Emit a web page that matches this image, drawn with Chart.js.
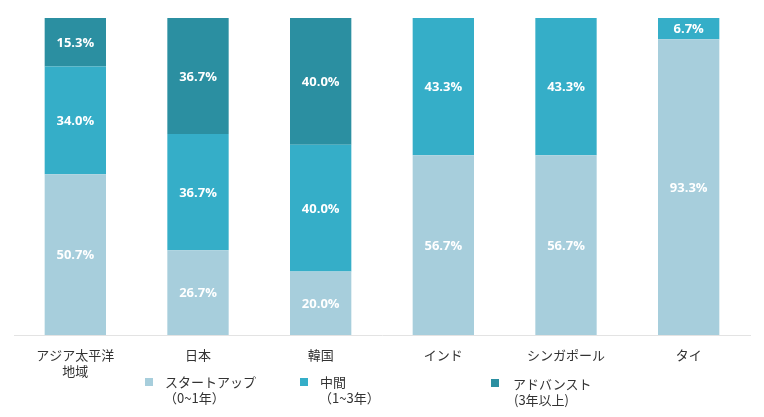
<!DOCTYPE html>
<html><head><meta charset="utf-8">
<script src="https://cdn.jsdelivr.net/npm/chart.js@4/dist/chart.umd.min.js"></script>
<style>
html,body{margin:0;padding:0;background:#fff;}
#wrap{position:relative;width:764px;height:417px;}
#c{position:absolute;left:0;top:0;}
.leg{position:absolute;font-family:"Noto Sans CJK JP","Noto Sans",sans-serif;font-size:13px;color:#333;line-height:15px;white-space:nowrap;}
.sq{position:absolute;width:8px;height:8px;}
</style></head><body>
<div id="wrap"><canvas id="c" width="764" height="417"></canvas>
<div class="sq" style="left:145px;top:378px;background:#a7cedc"></div>
<div class="leg" style="left:165px;top:374px">スタートアップ</div>
<div class="leg" style="left:164px;top:390px">（0~1年）</div>
<div class="sq" style="left:300px;top:378px;background:#35aec8"></div>
<div class="leg" style="left:320px;top:374px">中間</div>
<div class="leg" style="left:319px;top:390px">（1~3年）</div>
<div class="sq" style="left:491px;top:379px;background:#2b8fa1"></div>
<div class="leg" style="left:513px;top:376px">アドバンスト</div>
<div class="leg" style="left:514px;top:392px">(3年以上)</div>
</div>
<script>
const categories = [['アジア太平洋','地域'],'日本','韓国','インド','シンガポール','タイ'];
const startup = [50.7, 26.7, 20.0, 56.7, 56.7, 93.3];
const middle = [34.0, 36.7, 40.0, 43.3, 43.3, 6.7];
const advanced = [15.3, 36.7, 40.0, 0, 0, 0];
const seriesNames = ['スタートアップ（0~1年）','中間（1~3年）','アドバンスト（3年以上）'];
const colors = ['#a7cedc','#35aec8','#2b8fa1'];

const labelPlugin = {
  id:'segLabels',
  afterDatasetsDraw(chart){
    const ctx = chart.ctx;
    ctx.save();
    ctx.font = 'bold 13px "Open Sans", sans-serif';
    ctx.fillStyle = '#fff';
    ctx.textAlign = 'center';
    ctx.textBaseline = 'middle';
    chart.data.datasets.forEach((ds,i)=>{
      const meta = chart.getDatasetMeta(i);
      meta.data.forEach((bar,j)=>{
        const v = ds.data[j];
        if(!v) return;
        const y = (bar.y + bar.base)/2 + 1;
        ctx.fillText(v.toFixed(1)+'%', bar.x, y);
      });
    });
    ctx.restore();
  }
};

new Chart(document.getElementById('c'),{
  type:'bar',
  data:{
    labels:categories,
    datasets:[
      {label:seriesNames[0],data:startup,backgroundColor:colors[0]},
      {label:seriesNames[1],data:middle,backgroundColor:colors[1]},
      {label:seriesNames[2],data:advanced,backgroundColor:colors[2]}
    ]
  },
  options:{
    responsive:false,
    animation:false,
    layout:{padding:{left:14,right:14,top:18,bottom:0}},
    datasets:{bar:{categoryPercentage:1,barPercentage:0.5,borderWidth:0}},
    plugins:{legend:{display:false},tooltip:{enabled:false}},
    scales:{
      x:{stacked:true,
        grid:{display:false,drawTicks:false},
        border:{display:true,color:'#e3e3e3',width:1},
        ticks:{color:'#333',padding:12,maxRotation:0,autoSkip:false,
          font:{family:'"Noto Sans CJK JP","Noto Sans",sans-serif',size:13,lineHeight:1.25}},
        afterFit(s){s.height=82;}
      },
      y:{stacked:true,display:false,min:0,max:100}
    }
  },
  plugins:[labelPlugin]
});
</script>
</body></html>
